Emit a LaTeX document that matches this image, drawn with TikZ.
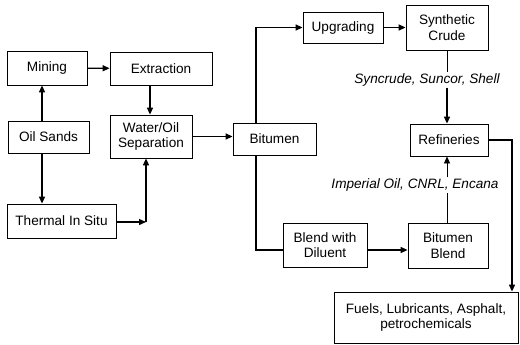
\documentclass[tikz,border=0pt]{standalone}
\usepackage{fontspec}
\setmainfont{Liberation Sans}
\usetikzlibrary{arrows.meta}
\begin{document}
\begin{tikzpicture}[x=1pt,y=-1pt,
  box/.style={draw,line width=0.8pt,align=center,inner sep=2pt,font=\fontsize{13.6}{15.5}\selectfont},
  lbl/.style={font=\fontsize{13.6}{15.5}\selectfont\itshape,inner sep=1pt},
  arr/.style={line width=1.3pt,-{Triangle[length=7pt,width=6pt]}},
  thinarr/.style={line width=0.7pt,-{Triangle[length=7pt,width=6pt]}},
  ln/.style={line width=1.1pt},
  thinln/.style={line width=0.7pt}]
\useasboundingbox (0,0) rectangle (520,345);
\node[box,minimum width=80pt,minimum height=34pt] (mining) at (47,68) {Mining};
\node[box,minimum width=102pt,minimum height=33pt] (extraction) at (161,68.5) {Extraction};
\node[box,minimum width=81pt,minimum height=32pt] (oilsands) at (48.5,137) {Oil Sands};
\node[box,minimum width=82pt,minimum height=43pt] (water) at (151,136.5) {Water/Oil\\Separation};
\node[box,minimum width=109pt,minimum height=34pt] (thermal) at (61.5,221) {Thermal In Situ};
\node[box,minimum width=83pt,minimum height=32pt] (bitumen) at (274.5,139) {Bitumen};
\node[box,minimum width=80pt,minimum height=31pt] (upgrading) at (343,27.5) {Upgrading};
\node[box,minimum width=82pt,minimum height=45pt] (crude) at (447,27.5) {Synthetic\\Crude};
\node[box,minimum width=78pt,minimum height=32pt] (refineries) at (449,140) {Refineries};
\node[box,minimum width=84pt,minimum height=44pt] (blend) at (325,245) {Blend with\\Diluent};
\node[box,minimum width=80pt,minimum height=45pt] (bblend) at (448,245.5) {Bitumen\\Blend};
\node[box,minimum width=184pt,minimum height=51pt] (fuels) at (426,317.5) {Fuels, Lubricants, Asphalt,\\petrochemicals};
\node[lbl] (syn) at (427,80) {Syncrude, Suncor, Shell};
\node[lbl] (imp) at (415,185) {Imperial Oil, CNRL, Encana};
\coordinate (c1) at (42,0);
\coordinate (c2) at (150,0);
\coordinate (c3) at (146,222);
\coordinate (c4) at (256,0);
\coordinate (c5) at (447,0);
\coordinate (c6) at (512,140);
\coordinate (c7) at (0,250);
\draw[arr] (oilsands.north -| c1) -- (mining.south -| c1);
\draw[arr] (oilsands.south -| c1) -- (thermal.north -| c1);
\draw[arr] (mining) -- (extraction);
\draw[arr] (extraction.south -| c2) -- (water.north -| c2);
\draw[arr] (thermal.east |- c3) -- (c3);
\draw[arr] (c3) -- (water.south -| c3);
\draw[arr] (water.east) -- (bitumen.west |- water.east);
\draw[arr] (bitumen.north -| c4) |- (upgrading.west);
\draw[arr] (upgrading) -- (crude);
\draw[thinln] (crude.south -| c5) -- (syn.north -| c5);
\draw[arr] (syn.south -| c5) -- (refineries.north -| c5);
\draw[ln] (bitumen.south -| c4) |- (blend.west |- c7);
\draw[arr] (blend.east |- c7) -- (bblend.west |- c7);
\draw[thinln] (bblend.north -| c5) -- (imp.south -| c5);
\draw[thinarr] (imp.north -| c5) -- (refineries.south -| c5);
\draw[arr] (refineries.east) -| (c6 |- fuels.north);
\end{tikzpicture}
\end{document}
